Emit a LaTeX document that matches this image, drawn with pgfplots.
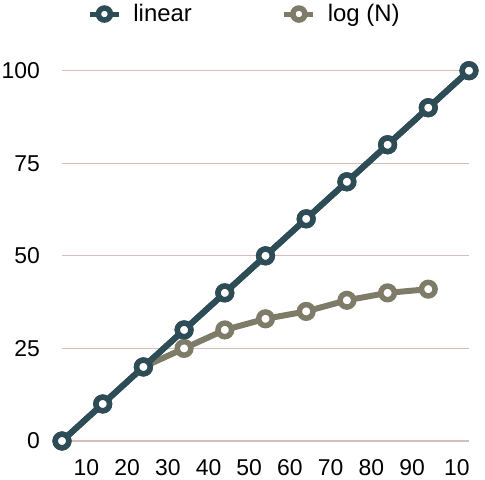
\documentclass[border=0pt]{standalone}
\usepackage{fontspec}
\setmainfont{Liberation Sans}
\usepackage{pgfplots}
\pgfplotsset{compat=1.18}

\definecolor{linc}{HTML}{2D4C55}
\definecolor{logc}{HTML}{7E7C68}
\definecolor{gridc}{HTML}{D6BFB7}

\begin{document}
\begin{tikzpicture}
\begin{axis}[
	name=ax,
	scale only axis,
	width=407bp, height=370.3bp,
	xmin=0, xmax=100,
	ymin=0, ymax=100,
	clip=false,
	axis line style={draw=none},
	tick style={draw=none},
	font=\fontsize{23}{27}\selectfont,
	/pgf/number format/assume math mode=true,
	ytick={0,25,50,75,100},
	yticklabel style={anchor=east, inner sep=0pt, xshift=-22bp},
	xtick={6,16,26,36,46,56,66,76,86,97},
	xticklabels={10,20,30,40,50,60,70,80,90,10},
	xticklabel style={anchor=north, inner sep=0pt, yshift=-18.5bp},
	ymajorgrids = true,
	grid style={gridc, line width=1.2bp},
	every axis plot/.append style={line width=6bp, mark=*, mark size=6.8bp,
		mark options={fill=white, line width=5.5bp}},
	legend columns=2,
	legend style={draw=none, fill=none, inner sep=0pt,
		font=\fontsize{24}{28}\selectfont,
		at={(axis description cs:0.062,1.153)}, anchor=west,
		/tikz/every odd column/.append style={column sep=10bp},
		/tikz/every even column/.append style={column sep=88bp}},
	legend image code/.code={
		\draw[mark repeat=2, mark phase=2, line width=5bp, mark size=6bp, #1]
			plot coordinates {(0bp,0bp) (14.5bp,0bp) (29bp,0bp)};
	},
]

\addplot[color=linc] coordinates {
(0,0)(10,10)(20,20)(30,30)(40,40)(50,50)(60,60)(70,70)(80,80)(90,90)(100,100)
};
\addlegendentry{linear}

\addplot[color=logc] coordinates {
(20,20)(30,25)(40,30)(50,33)(60,35)(70,38)(80,40)(90,41)
};
\addlegendentry{log (N)}

\addplot[color=linc, forget plot] coordinates {
(0,0)(10,10)(20,20)(30,30)(40,40)(50,50)(60,60)(70,70)(80,80)(90,90)(100,100)
};

\end{axis}
\pgfresetboundingbox
\path ([xshift=-62bp,yshift=-39bp]ax.south west) rectangle ([xshift=16bp,yshift=70.7bp]ax.north east);
\end{tikzpicture}
\end{document}
